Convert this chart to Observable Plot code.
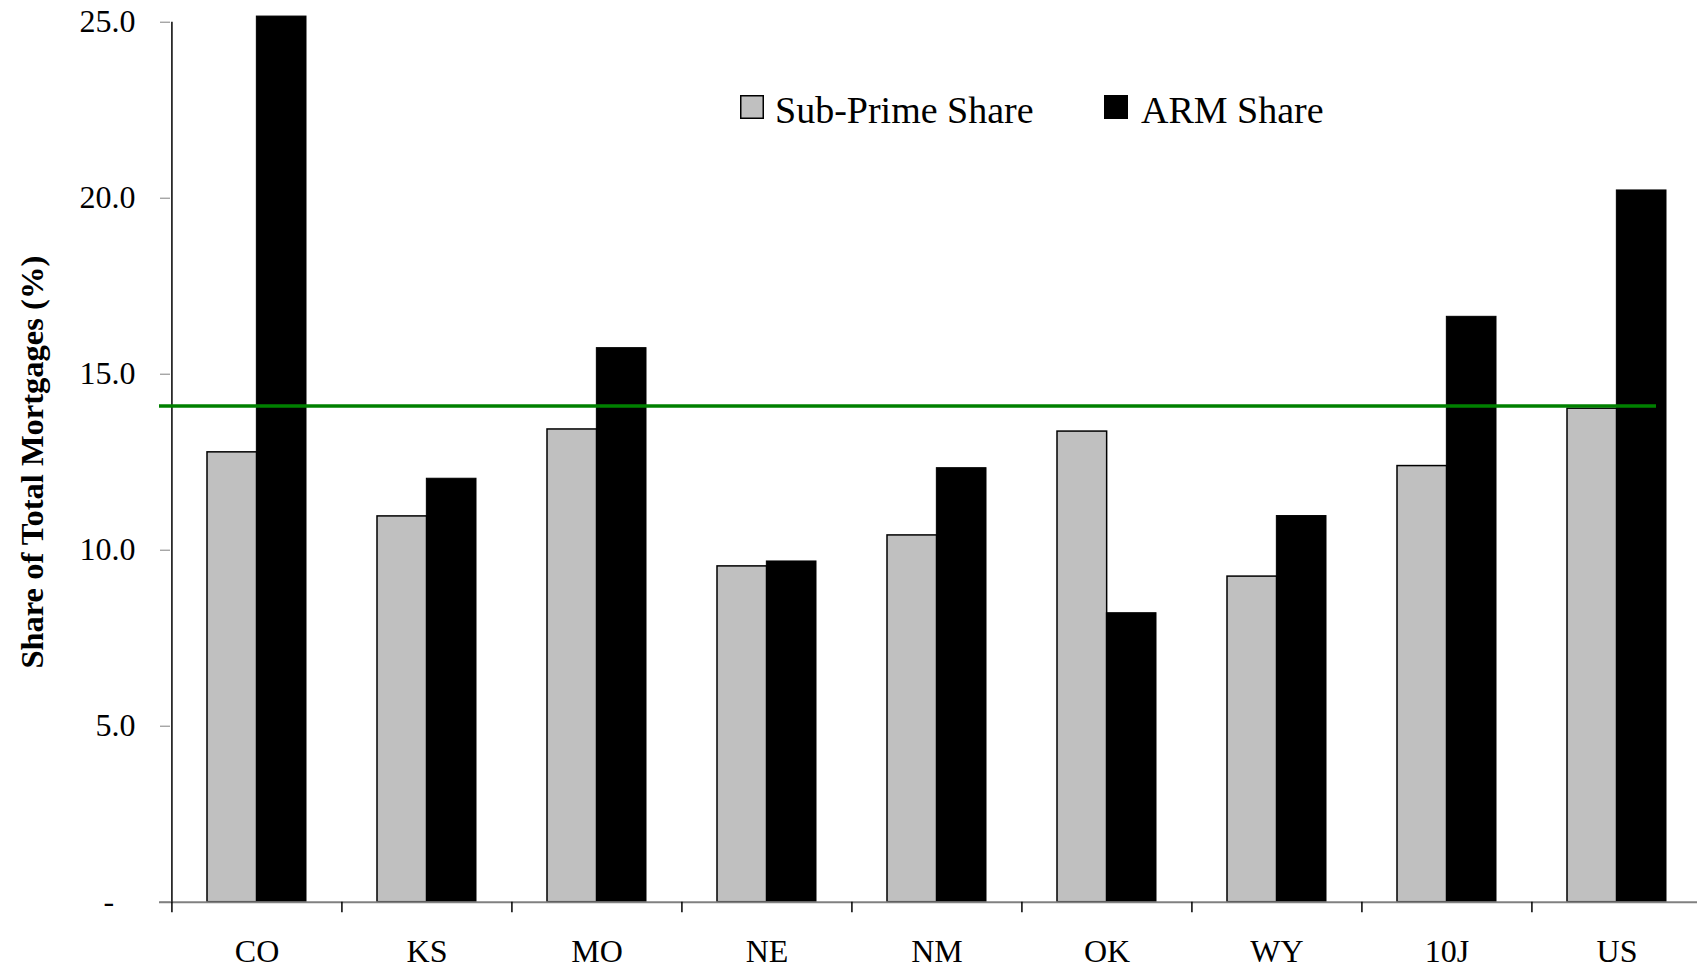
<!DOCTYPE html>
<html>
<head>
<meta charset="utf-8">
<script src="https://cdn.jsdelivr.net/npm/d3@7"></script>
<script src="https://cdn.jsdelivr.net/npm/@observablehq/plot@0.6"></script>
<style>
  html, body { margin: 0; padding: 0; background: #fff; }
  #chart { position: relative; width: 1697px; height: 968px; overflow: hidden;
           font-family: "Liberation Serif", "Times New Roman", serif; }
  #legend { position: absolute; left: 0; top: 0; pointer-events: none; }
</style>
</head>
<body>
<div id="chart"></div>
<script>
// Mortgage shares by state (percent of total mortgages)
const states = ["CO", "KS", "MO", "NE", "NM", "OK", "WY", "10J", "US"];
const subPrimeShare = [12.78, 10.96, 13.43, 9.54, 10.42, 13.37, 9.25, 12.39, 14.02];
const armShare = [25.16, 12.03, 15.74, 9.68, 12.33, 8.21, 10.97, 16.63, 20.22];
const seriesNames = ["Sub-Prime Share", "ARM Share"];
const seriesColors = ["#c0c0c0", "#000000"];
const referenceLevel = 14.1;
const yTicks = [0, 5, 10, 15, 20, 25];
const yTitle = "Share of Total Mortgages (%)";

const rows = states.map((state, i) => ({state, sub: subPrimeShare[i], arm: armShare[i]}));

// Layout
const W = 1697, H = 968;
const marginLeft = 170, marginTop = 21.7, marginBottom = 66.3, marginRight = 0;
const xRange = [170.5, 1702];
const padInner = 0.42;
const step = (xRange[1] - xRange[0]) / states.length;
const halfGroup = step * (1 - padInner) / 2;   // each series takes half of the band
const font = "Liberation Serif, Times New Roman, serif";

const chart = Plot.plot({
  width: W,
  height: H,
  marginLeft, marginTop, marginBottom, marginRight,
  style: {fontFamily: font, color: "black", background: "white", overflow: "visible"},
  x: {domain: states, range: xRange, paddingInner: padInner, paddingOuter: padInner / 2, label: null},
  y: {domain: [0, 25], label: null},
  marks: [
    // bars
    Plot.barY(rows, {x: "state", y: "sub", fill: seriesColors[0], stroke: "black", strokeWidth: 1.5,
                     insetLeft: 0, insetRight: halfGroup}),
    Plot.barY(rows, {x: "state", y: "arm", fill: seriesColors[1], stroke: "black", strokeWidth: 1,
                     insetLeft: halfGroup, insetRight: 0}),
    // baseline
    Plot.ruleY([0], {stroke: "#808080", strokeWidth: 2, insetLeft: -11}),
    // vertical axis line
    Plot.ruleX(states.slice(0, 1), {x: d => d, dx: -step / 2, stroke: "black", strokeWidth: 1.5}),
    // category boundary ticks
    Plot.ruleX(states, {x: d => d, y1: 0, y2: 0, insetBottom: -10.5, dx: -step / 2,
                        stroke: "black", strokeWidth: 1.5}),
    // reference level
    Plot.ruleY([referenceLevel], {stroke: "#008000", strokeWidth: 3.5, insetLeft: -11, insetRight: 41}),
    // axes
    Plot.axisY({ticks: yTicks, tickSize: 10, tickPadding: 25, fontSize: 32, stroke: "#808080",
                tickFormat: d => d === 0 ? "-\u2002\u2006" : d.toFixed(1), label: null}),
    Plot.axisX({tickSize: 0, tickPadding: 37, fontSize: 32, label: null}),
    Plot.text([yTitle], {frameAnchor: "left", rotate: -90, dx: -138, fontSize: 32.5,
                         fontWeight: "bold", textAnchor: "middle", lineAnchor: "middle", fill: "black"})
  ]
});

const root = document.getElementById("chart");
root.appendChild(chart);

// Legend overlaid in the upper part of the plot area
const legendItems = [
  {name: seriesNames[0], color: seriesColors[0], sx: 740, tx: 775},
  {name: seriesNames[1], color: seriesColors[1], sx: 1104, tx: 1141}
];
const ns = "http://www.w3.org/2000/svg";
const lg = document.createElementNS(ns, "svg");
lg.setAttribute("id", "legend");
lg.setAttribute("width", W);
lg.setAttribute("height", 160);
for (const item of legendItems) {
  const r = document.createElementNS(ns, "rect");
  r.setAttribute("x", item.sx + 0.75);
  r.setAttribute("y", 95.75);
  r.setAttribute("width", 22.5);
  r.setAttribute("height", 22.5);
  r.setAttribute("fill", item.color);
  r.setAttribute("stroke", "black");
  r.setAttribute("stroke-width", 1.5);
  lg.appendChild(r);
  const t = document.createElementNS(ns, "text");
  t.setAttribute("x", item.tx);
  t.setAttribute("y", 123);
  t.setAttribute("font-family", font);
  t.setAttribute("font-size", 38);
  t.setAttribute("fill", "black");
  t.textContent = item.name;
  lg.appendChild(t);
}
root.appendChild(lg);
</script>
</body>
</html>
